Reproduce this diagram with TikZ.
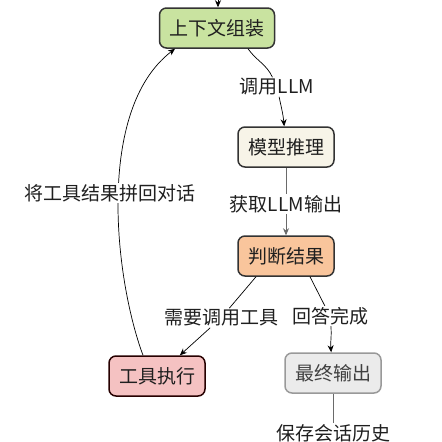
\documentclass[tikz,border=0pt]{standalone}
\usepackage{fontspec}
\setmainfont{Noto Sans CJK SC}
\usepackage{xcolor}
\usetikzlibrary{arrows.meta}
\definecolor{ctxgreen}{HTML}{C9E3A0}
\definecolor{modelbeige}{HTML}{F7F4E8}
\definecolor{judgeorange}{HTML}{F9C59C}
\definecolor{toolpink}{HTML}{F5C2C2}
\definecolor{fingray}{HTML}{EBEBEB}
\definecolor{edgegray}{HTML}{6A6A6A}
\begin{document}
\begin{tikzpicture}[x=1pt,y=1pt]
\tikzstyle{every node}+=[font=\fontsize{19}{21}\selectfont, text=black!88]
\tikzstyle{box}=[draw=black!80, line width=1.5pt, rounded corners=7pt, minimum height=40pt, minimum width=96pt, inner xsep=10pt]
\tikzstyle{lbl}=[fill=white, inner sep=1pt]
\tikzstyle{arr}=[-{Stealth[length=7pt,width=6pt]}, line width=0.7pt]
\useasboundingbox (0,-442) rectangle (442,0);
\node [box, fill=ctxgreen] (ctx) at (217,-28) {上下文组装};
\node [box, fill=modelbeige] (model) at (286,-147) {模型推理};
\node [box, fill=judgeorange] (judge) at (286,-256) {判断结果};
\node [box, fill=toolpink, draw=black!75!red!60!black] (tool) at (157,-376) {工具执行};
\node [box, fill=fingray, draw=black!40, text=black!75] (fin) at (333,-373) {最终输出};
\node [lbl] (lblcall) at (277,-87) {调用LLM};
\node [lbl] (lblget) at (286,-204) {获取LLM输出};
\node [lbl] (lbltool) at (221,-318) {需要调用工具};
\node [lbl] (lbldone) at (330,-316) {回答完成};
\node [lbl] (lblsave) at (333,-433) {保存会话历史};
\coordinate (top) at (218,6);
% flow
\draw [arr] (top) -- (ctx.north -| top);
\draw [arr] ([xshift=31pt]ctx.south) to[out=-55,in=115] (lblcall) to[out=-78,in=95] (model);
\draw [arr, edgegray] (model) -- (lblget) -- (judge);
\draw [arr] ([xshift=-30pt]judge.south) -- (lbltool) -- (tool);
\draw [arr] ([xshift=24pt]judge.south) -- (lbldone) to[out=-85,in=95] (fin);
\draw [line width=1pt, edgegray] (fin) -- (lblsave);
% back to context
\draw [arr] ([xshift=-14pt]tool.north) .. controls (115,-280) and (95,-110) .. ([xshift=-42pt]ctx.south);
\node [lbl] (lblback) at (110,-193) {将工具结果拼回对话};
\end{tikzpicture}
\end{document}
